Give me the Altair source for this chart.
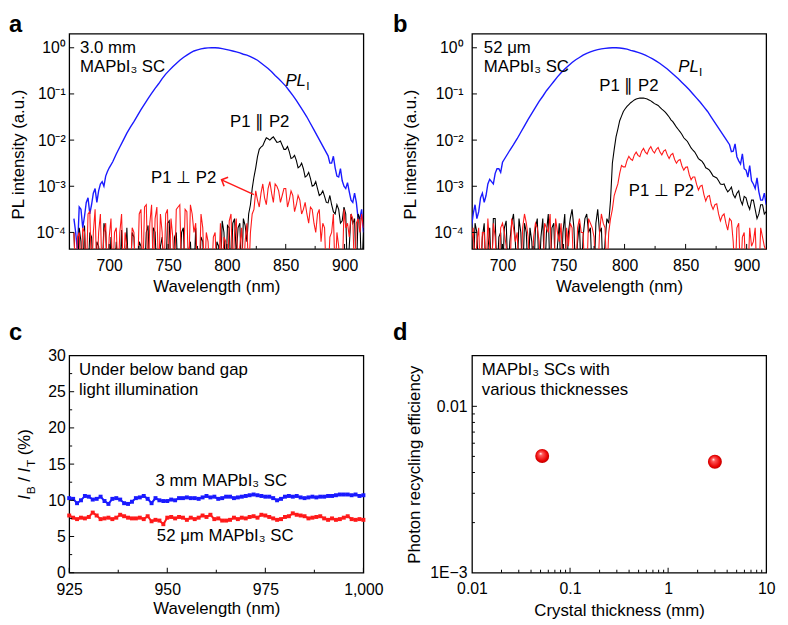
import altair as alt
import pandas as pd

FONT = "Liberation Sans"
BLUE = "#1a1aff"
RED = "#ff1a1a"
BLACK = "#000000"

# ---------------- panels a / b : PL spectra (log10 of normalised intensity) ----------------
wl = list(range(670, 917, 3))                      # main sampling grid, nm (83 points)
wl2 = [671.5 + 3 * j for j in range(82)]           # interleaved sampling grid, nm (82 points)
wl2_tails = wl2[:10] + wl2[72:]                    # interleaved points in the noisy tails only

a_blue_log = [
    -3.7, -4.4, -3.5, -3.65, -3.25, -3.4, -3.05, -3.1, -2.9, -2.78,
    -2.6, -2.47, -2.3, -2.15, -2.0, -1.85, -1.72, -1.6, -1.47, -1.34,
    -1.22, -1.1, -0.99, -0.88, -0.78, -0.67, -0.57, -0.49, -0.41, -0.34,
    -0.27, -0.21, -0.16, -0.11, -0.07, -0.045, -0.025, -0.01, -0.003, 0.0,
    0.0, -0.005, -0.02, -0.035, -0.05, -0.07, -0.09, -0.11, -0.14, -0.16,
    -0.19, -0.23, -0.27, -0.33, -0.39, -0.45, -0.52, -0.6, -0.67, -0.75,
    -0.83, -0.93, -1.03, -1.14, -1.26, -1.38, -1.5, -1.64, -1.78, -1.92,
    -2.06, -2.2, -2.34, -2.5, -2.6, -2.8, -2.88, -3.05, -3.12, -3.35,
    -3.35, -3.7, -4.0,
]
a_blue_log2 = [
    -4.0, -3.45, -3.9, -3.35, -3.6, -3.15, -3.35, -2.95, -3.0, -2.68,
    -2.5, -2.35, -2.78, -2.62, -3.0, -2.92, -3.3, -3.15, -3.7, -3.5,
]
a_black_log = [
    -4.0, -5, -4.2, -3.85, -5, -4.1, -5, -4.3, -5, -4.0,
    -5, -5, -4.2, -5, -5, -3.9, -5, -4.1, -5, -4.3,
    -5, -3.85, -5, -4.0, -5, -4.1, -5, -3.75, -5, -4.0,
    -5, -3.9, -5, -4.2, -5, -5, -4.1, -5, -5, -4.4,
    -5, -4.3, -3.75, -5, -3.9, -3.8, -4.5, -3.8, -3.7, -4.2,
    -3.4, -2.8, -2.36, -2.15, -2.03, -1.97, -1.96, -1.99, -2.04, -2.11,
    -2.2, -2.25, -2.38, -2.44, -2.57, -2.62, -2.77, -2.83, -2.98, -3.05,
    -3.17, -3.22, -3.36, -3.4, -3.6, -3.5, -3.75, -3.6, -4.3, -3.8,
    -5, -3.7, -4.0,
]
a_black_log2 = [
    -5, -3.9, -5, -5, -4.0, -5, -4.2, -5, -3.8, -5,
    -4.1, -5, -5, -3.95, -5, -5, -4.0, -5, -4.2, -5,
    -4.0, -5, -3.9, -5, -4.3, -5, -3.8, -5, -4.1, -5,
    -4.0, -5, -4.4, -5, -3.9, -5, -4.2, -5, -4.6, -5,
    -4.2, -5, -4.0, -3.85, -5, -3.7, -3.9, -5, -3.85, -3.6,
    -3.05, -2.6, -2.2, -2.12, -1.95, -2.0, -1.93, -2.05, -2.02, -2.2,
    -2.14, -2.4, -2.33, -2.6, -2.5, -2.8, -2.7, -3.0, -2.9, -3.2,
    -3.1, -3.35, -3.2, -3.55, -3.4, -3.8, -3.45, -5, -3.6, -3.7,
    -3.6, -5,
]
a_red_log = [
    -4.0, -4.1, -5, -4.0, -3.6, -5, -3.5, -4.0, -5, -3.8,
    -4.1, -5, -3.9, -4.0, -5, -4.3, -5, -4.0, -5, -3.5,
    -3.45, -5, -3.4, -3.7, -5, -4.0, -3.6, -5, -4.1, -3.5,
    -3.4, -5, -3.55, -3.4, -4.0, -5, -3.6, -5, -4.2, -5,
    -4.0, -5, -5, -4.2, -3.75, -5, -3.7, -4.3, -5, -3.8,
    -4.0, -3.5, -3.3, -3.15, -3.25, -3.05, -3.15, -2.95, -3.1, -3.2,
    -3.05, -3.3, -3.2, -3.4, -3.3, -3.5, -3.6, -3.45, -3.8, -3.6,
    -4.2, -3.9, -5, -4.0, -5, -4.3, -5, -3.9, -4.1, -3.7,
    -3.8, -4.0, -3.9,
]
a_red_log2 = [
    -5, -4.0, -3.9, -5, -3.55, -4.0, -5, -3.6, -4.0, -5,
    -3.7, -4.0, -5, -3.6, -4.0, -5, -3.9, -5, -3.6, -5,
    -3.4, -3.8, -5, -3.45, -3.6, -5, -3.5, -3.7, -5, -3.45,
    -5, -3.5, -5, -3.6, -3.8, -5, -3.9, -4.0, -5, -4.1,
    -5, -3.8, -4.1, -5, -3.6, -4.0, -5, -3.9, -4.2, -5,
    -3.6, -3.1, -3.45, -2.95, -3.4, -2.9, -3.35, -3.0, -3.35, -3.05,
    -3.45, -3.1, -3.55, -3.2, -3.6, -3.35, -3.8, -3.5, -4.0, -3.5,
    -3.8, -5, -4.1, -3.6, -4.0, -5, -3.5, -3.8, -3.6, -5,
    -3.7, -3.6,
]

b_blue_log = [
    -3.9, -4.3, -3.6, -3.7, -3.25, -3.35, -2.95, -2.9, -2.72, -2.62,
    -2.48, -2.35, -2.22, -2.1, -1.97, -1.83, -1.69, -1.55, -1.42, -1.29,
    -1.16, -1.05, -0.93, -0.83, -0.73, -0.63, -0.54, -0.46, -0.39, -0.32,
    -0.26, -0.21, -0.16, -0.12, -0.09, -0.06, -0.04, -0.025, -0.012, -0.004,
    0.0, 0.0, -0.005, -0.015, -0.03, -0.055, -0.075, -0.1, -0.125, -0.16,
    -0.2, -0.24, -0.29, -0.34, -0.4, -0.46, -0.53, -0.6, -0.67, -0.75,
    -0.83, -0.91, -1.0, -1.09, -1.18, -1.28, -1.38, -1.5, -1.62, -1.74,
    -1.86, -1.98, -2.1, -2.24, -2.36, -2.52, -2.62, -2.8, -2.88, -3.05,
    -3.12, -3.3, -3.4,
]
b_blue_log2 = [
    -3.7, -3.9, -3.4, -3.55, -3.15, -3.2, -2.85, -2.95, -2.62, -2.7,
    -2.25, -2.08, -2.45, -2.3, -2.65, -2.55, -2.95, -2.82, -3.3, -3.15,
]
b_black_log = [
    -4.3, -3.9, -5, -4.0, -5, -3.8, -4.4, -5, -3.7, -4.1,
    -5, -3.75, -4.2, -3.6, -5, -4.0, -3.8, -5, -4.2, -3.9,
    -5, -3.7, -4.0, -5, -3.8, -4.3, -5, -3.6, -4.0, -3.5,
    -5, -3.8, -4.1, -3.6, -3.9, -5, -3.5, -3.9, -4.2, -3.8,
    -2.5, -1.93, -1.58, -1.38, -1.27, -1.19, -1.13, -1.1, -1.09, -1.1,
    -1.13, -1.18, -1.23, -1.29, -1.36, -1.45, -1.56, -1.66, -1.77, -1.88,
    -1.99, -2.1, -2.22, -2.33, -2.43, -2.52, -2.62, -2.71, -2.8, -2.88,
    -2.96, -3.05, -3.08, -3.18, -3.15, -3.3, -3.22, -3.4, -3.3, -3.5,
    -3.6, -3.4, -3.55,
]
b_black_log2 = [
    -5, -4.0, -3.8, -5, -4.1, -5, -3.9, -3.7, -5, -4.0,
    -3.9, -5, -3.8, -4.2, -3.7, -5, -4.0, -3.9, -5, -3.7,
    -4.1, -5, -3.6, -3.9, -5, -3.8, -4.0, -5, -3.7, -3.9,
    -4.2, -5, -3.7, -4.0, -5, -3.8, -4.0, -5, -3.7, -3.3,
    -2.2, -1.76, -1.48, -1.32, -1.23, -1.16, -1.11, -1.09, -1.09, -1.11,
    -1.15, -1.21, -1.25, -1.33, -1.4, -1.5, -1.6, -1.72, -1.82, -1.95,
    -2.03, -2.17, -2.26, -2.4, -2.46, -2.6, -2.65, -2.78, -2.82, -2.95,
    -2.95, -3.12, -3.02, -3.25, -3.1, -3.4, -3.25, -3.5, -3.3, -3.7,
    -3.4, -3.6,
]
b_red_log = [
    -4.0, -5, -3.9, -4.2, -5, -4.0, -3.7, -5, -4.1, -5,
    -3.8, -4.3, -5, -3.9, -4.0, -5, -3.6, -4.1, -5, -3.8,
    -4.2, -5, -3.9, -3.6, -5, -4.0, -3.8, -5, -4.3, -3.9,
    -5, -3.7, -4.0, -5, -3.8, -4.1, -5, -3.6, -3.9, -4.0,
    -3.5, -3.07, -2.72, -2.58, -2.44, -2.41, -2.32, -2.33, -2.24, -2.26,
    -2.2, -2.23, -2.2, -2.26, -2.24, -2.32, -2.32, -2.42, -2.44, -2.56,
    -2.59, -2.75, -2.8, -2.96, -3.0, -3.18, -3.22, -3.4, -3.4, -3.6,
    -3.64, -3.8, -3.7, -4.2, -3.9, -5, -4.0, -5, -4.3, -3.9,
    -5, -4.1, -4.4,
]
b_red_log2 = [
    -3.8, -4.2, -5, -3.9, -4.0, -5, -4.3, -3.8, -5, -3.9,
    -4.0, -5, -3.7, -4.2, -5, -3.9, -3.8, -5, -4.1, -3.9,
    -5, -3.8, -4.0, -5, -3.7, -4.2, -5, -3.9, -3.8, -5,
    -3.9, -4.0, -5, -3.7, -3.9, -5, -4.0, -3.8, -5, -3.7,
    -3.2, -2.95, -2.55, -2.58, -2.35, -2.44, -2.26, -2.36, -2.18, -2.3,
    -2.14, -2.28, -2.16, -2.32, -2.21, -2.4, -2.29, -2.5, -2.42, -2.65,
    -2.58, -2.86, -2.8, -3.08, -2.98, -3.32, -3.2, -3.5, -3.38, -3.75,
    -3.6, -3.95, -3.75, -5, -3.8, -4.1, -5, -3.9, -4.2, -5,
    -3.9, -4.3,
]

# ---------------- panel c : I_B / I_T (%) ----------------
c_wl = list(range(925, 1001))
c_3mm = [
    10.3, 10.2, 9.6, 10.0, 10.6, 10.5, 10.1, 10.2, 10.5, 9.9,
    9.5, 10.2, 10.3, 10.1, 9.6, 9.5, 9.8, 10.3, 10.4, 10.6,
    10.2, 9.6, 10.3, 10.0, 9.9, 9.9, 10.1, 10.0, 10.3, 10.3,
    10.4, 10.3, 10.3, 10.2, 10.4, 10.6, 10.4, 10.5, 10.2, 10.3,
    10.5, 10.5, 10.3, 10.4, 10.5, 10.6, 10.7, 10.8, 10.7, 10.6,
    10.5, 10.5, 10.3, 10.0, 10.2, 10.5, 10.6, 10.5, 10.6, 10.4,
    10.3, 10.4, 10.5, 10.4, 10.5, 10.5, 10.6, 10.6, 10.7, 10.8,
    10.8, 10.8, 10.7, 10.8, 10.6, 10.7,
]
c_52um = [
    7.9, 7.6, 7.4, 7.6, 7.5, 7.7, 8.3, 7.9, 7.4, 7.5,
    7.6, 7.4, 7.6, 8.0, 7.8, 7.6, 7.5, 7.5, 7.6, 7.4,
    7.8, 7.1, 7.3, 7.2, 6.7, 7.6, 7.7, 7.5, 7.7, 7.6,
    7.3, 7.6, 7.4, 7.6, 7.9, 7.7, 8.0, 7.4, 7.5, 7.2,
    7.2, 7.3, 7.6, 7.4, 7.6, 7.5, 7.7, 7.8, 7.6, 8.0,
    7.9, 7.7, 7.5, 7.3, 7.4, 7.7, 7.8, 8.2, 8.0, 7.9,
    7.8, 7.5, 7.6, 7.7, 7.8, 7.5, 7.3, 7.5, 7.3, 7.4,
    7.6, 7.8, 7.4, 7.3, 7.4, 7.3,
]

# ---------------- panel d : photon recycling efficiency ----------------
d_thickness = [0.052, 3.0]
d_eff = [0.00503, 0.00464]

AX = dict(ticks=False, domain=False, grid=False, labelFont=FONT, titleFont=FONT,
          labelFontSize=16, titleFontSize=17, labelColor="black", titleColor="black",
          titleFontWeight="normal", labelFlush=False, labelOverlap=False)

ONE = pd.DataFrame({"k": [0]})


def txt(s, x, y, size=17, align="left", baseline="alphabetic", style="normal",
        weight="normal", angle=0, color="black"):
    return alt.Chart(ONE).mark_text(
        text=s, align=align, baseline=baseline, fontSize=size, font=FONT,
        fontStyle=style, fontWeight=weight, angle=angle, color=color,
    ).encode(x=alt.value(x), y=alt.value(y))


def xtick_layer(field, values, X, H, length):
    return alt.Chart(pd.DataFrame({field: values})).mark_rule(color="black", strokeWidth=1).encode(
        x=X, y=alt.value(H), y2=alt.value(H - length))


def ytick_layer(field, values, Y, length):
    return alt.Chart(pd.DataFrame({field: values})).mark_rule(color="black", strokeWidth=1).encode(
        y=Y, x=alt.value(0), x2=alt.value(length))


def spectrum_frame(main, extra, extra_wl):
    df = pd.DataFrame({"wl": list(wl) + list(extra_wl), "e": list(main) + list(extra)})
    df = df.sort_values("wl").reset_index(drop=True)
    df["v"] = 10 ** df["e"]
    return df


def spectrum_panel(series, xdom, ypad, title_x, notes, arrow=None):
    W, H = 298, 218
    xs = alt.Scale(domain=xdom, nice=False, zero=False)
    ys = alt.Scale(type="log", domain=[4.4e-5, 2.02], nice=False)
    xax = alt.Axis(values=[700, 750, 800, 850, 900], title="Wavelength (nm)", labelPadding=9,
                   titleY=43, titleBaseline="alphabetic", **AX)
    yax = alt.Axis(values=[1e-4, 1e-3, 1e-2, 1e-1, 1],
                   labelExpr="'10' + ['⁻⁴','⁻³','⁻²','⁻¹','⁰'][round(log(datum.value)/LN10)+4]",
                   title="PL intensity (a.u.)", labelPadding=ypad, titleX=title_x, titleY=122,
                   titleAngle=270, titleAlign="center", titleBaseline="alphabetic", **AX)
    X = alt.X("wl:Q", scale=xs, axis=xax)
    Y = alt.Y("v:Q", scale=ys, axis=yax)
    layers = []
    for df, col, sw in series:
        layers.append(alt.Chart(df).mark_line(color=col, strokeWidth=sw, clip=True).encode(x=X, y=Y))
    if arrow is not None:
        adf = pd.DataFrame({"wl": arrow[0], "v": [10 ** e for e in arrow[1]]})
        layers.append(alt.Chart(adf).mark_line(color=RED, strokeWidth=1.5).encode(x=X, y=Y))
        hdf = adf.iloc[[1]]
        layers.append(alt.Chart(hdf).mark_point(shape="M-1,1L0,0L1,1", size=100, filled=False,
                                                 color=RED, strokeWidth=1.6, angle=294, opacity=1)
                      .encode(x=X, y=Y))
    layers.append(xtick_layer("wl", [700, 750, 800, 850, 900], X, H, 5))
    layers.append(xtick_layer("wl", [725, 775, 825, 875], X, H, 3))
    layers.append(ytick_layer("v", [1e-4, 1e-3, 1e-2, 1e-1, 1], Y, 5))
    layers.extend(notes)
    return alt.layer(*layers).properties(width=W, height=H)


pa = spectrum_panel(
    [
        (spectrum_frame(a_blue_log, a_blue_log2, wl2_tails), BLUE, 1.4),
        (spectrum_frame(a_black_log, a_black_log2, wl2), BLACK, 1.1),
        (spectrum_frame(a_red_log, a_red_log2, wl2), RED, 1.1),
    ],
    [666, 916], 4, -46,
    [
        txt("a", -61, -21, size=24, weight="bold", baseline="top"),
        txt("3.0 mm", 11, 20),
        txt("MAPbI₃ SC", 11, 39),
        txt("PL", 219, 53, style="italic"),
        txt("I", 240, 57, size=12),
        txt("P1 ∥ P2", 193, 95, align="center"),
        txt("P1 ⊥ P2", 116, 151, align="center"),
    ],
    arrow=([823, 795.5], [-3.18, -2.86]),
)

pb = spectrum_panel(
    [
        (spectrum_frame(b_blue_log, b_blue_log2, wl2_tails), BLUE, 1.4),
        (spectrum_frame(b_black_log, b_black_log2, wl2), BLACK, 1.1),
        (spectrum_frame(b_red_log, b_red_log2, wl2), RED, 1.1),
    ],
    [675, 916], 9, -57,
    [
        txt("b", -80, -21, size=24, weight="bold", baseline="top"),
        txt("52 μm", 12, 20),
        txt("MAPbI₃ SC", 12, 39),
        txt("PL", 209, 39, style="italic"),
        txt("I", 230, 43, size=12),
        txt("P1 ∥ P2", 159, 58, align="center"),
        txt("P1 ⊥ P2", 192, 164, align="center"),
    ],
)

# ---- panel c ----
Wc, Hc = 298, 220
xs_c = alt.Scale(domain=[925, 1000], nice=False, zero=False)
ys_c = alt.Scale(domain=[0, 30], nice=False)
xax_c = alt.Axis(values=[925, 950, 975, 1000], format=",d", title="Wavelength (nm)", labelPadding=9,
                 titleY=41, titleBaseline="alphabetic", **AX)
yax_c = alt.Axis(values=[0, 5, 10, 15, 20, 25, 30], title=None, labelPadding=4, **AX)
Xc = alt.X("wl:Q", scale=xs_c, axis=xax_c)
Yc = alt.Y("r:Q", scale=ys_c, axis=yax_c)
c_layers = []
for vals, col in ((c_3mm, BLUE), (c_52um, RED)):
    df = pd.DataFrame({"wl": c_wl, "r": vals})
    c_layers.append(alt.Chart(df).mark_line(color=col, strokeWidth=2).encode(x=Xc, y=Yc))
    c_layers.append(alt.Chart(df).mark_square(color=col, size=16, opacity=1).encode(x=Xc, y=Yc))
c_layers += [
    xtick_layer("wl", [925, 950, 975, 1000], Xc, Hc, 5),
    xtick_layer("wl", [937.5, 962.5, 987.5], Xc, Hc, 3),
    ytick_layer("r", [0, 5, 10, 15, 20, 25, 30], Yc, 5),
    ytick_layer("r", [2.5, 7.5, 12.5, 17.5, 22.5, 27.5], Yc, 3),
    txt("c", -61, -16, size=24, weight="bold"),
    txt("Under below band gap", 10, 20),
    txt("light illumination", 10, 40),
    txt("3 mm MAPbI₃ SC", 154, 132, align="center"),
    txt("52 μm MAPbI₃ SC", 158, 188, align="center"),
    # y-axis title  I_B / I_T (%)
    txt("I", -40, 146, style="italic", angle=270),
    txt("B", -35, 140.5, size=12, angle=270),
    txt("/", -40, 128, angle=270),
    txt("I", -40, 118.5, style="italic", angle=270),
    txt("T", -35, 113, size=12, angle=270),
    txt("(%)", -40, 101, angle=270),
]
pc = alt.layer(*c_layers).properties(width=Wc, height=Hc)

# ---- panel d ----
Wd, Hd = 298, 220
xs_d = alt.Scale(type="log", domain=[0.01, 10], nice=False)
ys_d = alt.Scale(type="log", domain=[0.001, 0.0202], nice=False)
xax_d = alt.Axis(values=[0.01, 0.1, 1, 10],
                 labelExpr="datum.value < 0.05 ? '0.01' : datum.value < 0.5 ? '0.1' : datum.value < 5 ? '1' : '10'",
                 title="Crystal thickness (mm)", labelPadding=8, titleY=43, titleBaseline="alphabetic", **AX)
yax_d = alt.Axis(values=[0.001, 0.01], labelExpr="datum.value < 0.005 ? '1E−3' : '0.01'",
                 title="Photon recycling efficiency", labelPadding=5, titleX=-53, titleY=110,
                 titleAngle=270, titleAlign="center", titleBaseline="alphabetic", **AX)
Xd = alt.X("t:Q", scale=xs_d, axis=xax_d)
Yd = alt.Y("e:Q", scale=ys_d, axis=yax_d)
ddf = pd.DataFrame({"t": d_thickness, "e": d_eff})
ball = alt.RadialGradient(
    gradient="radial",
    stops=[alt.GradientStop(offset=0, color="#ffffff"),
           alt.GradientStop(offset=0.22, color="#ff5a5a"),
           alt.GradientStop(offset=0.75, color="#e80000"),
           alt.GradientStop(offset=1, color="#b00000")],
    x1=0.38, y1=0.32, r1=0, x2=0.5, y2=0.5, r2=0.55,
)
d_minor_x = [0.02, 0.03, 0.04, 0.05, 0.06, 0.07, 0.08, 0.09,
             0.2, 0.3, 0.4, 0.5, 0.6, 0.7, 0.8, 0.9,
             2, 3, 4, 5, 6, 7, 8, 9]
d_minor_y = [0.002, 0.003, 0.004, 0.005, 0.006, 0.007, 0.008, 0.009]
d_layers = [
    alt.Chart(ddf).mark_circle(size=200, fill=ball, opacity=1).encode(x=Xd, y=Yd),
    xtick_layer("t", [0.1, 1], Xd, Hd, 5),
    xtick_layer("t", d_minor_x, Xd, Hd, 3),
    ytick_layer("e", [0.01], Yd, 5),
    ytick_layer("e", d_minor_y, Yd, 3),
    txt("d", -80, -16, size=24, weight="bold"),
    txt("MAPbI₃ SCs with", 10, 20),
    txt("various thicknesses", 10, 40),
]
pdd = alt.layer(*d_layers).properties(width=Wd, height=Hd)

chart = alt.concat(
    pa, pb, pc, pdd, columns=2, spacing={"row": 108, "column": 110}, bounds="flush"
).properties(
    padding={"left": 0, "top": 0, "right": 4, "bottom": 4}
).configure_view(stroke="black", strokeWidth=1.3)

chart.save("out.html", embed_options={"renderer": "svg", "actions": False})
